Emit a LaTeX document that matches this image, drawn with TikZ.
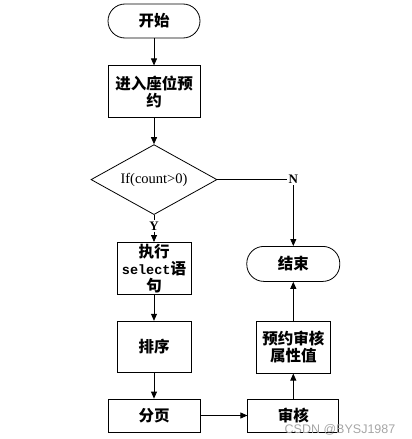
\documentclass[tikz,border=0pt]{standalone}
\usepackage{fontspec}
\setmainfont{Liberation Serif}
\newfontfamily\cjk{Noto Sans CJK SC}
\newfontfamily\monofont{Liberation Mono}
\newfontfamily\wmfont{Liberation Sans}
\usetikzlibrary{arrows.meta, shapes.geometric, positioning}

\begin{document}
\begin{tikzpicture}[
    x=1pt, y=-1pt,
    line width=0.8pt,
    term/.style={rectangle, draw, rounded corners=17pt,
                 minimum width=92pt, minimum height=34pt,
                 font=\cjk\bfseries\fontsize{15.5}{17}\selectfont},
    proc/.style={rectangle, draw, inner sep=1pt,
                 minimum width=74pt, minimum height=52pt,
                 align=center,
                 font=\cjk\bfseries\fontsize{15.5}{17}\selectfont},
    wide/.style={proc, minimum width=92pt, minimum height=33pt},
    decide/.style={diamond, draw, inner sep=0pt, aspect=1.8,
                   minimum width=126pt, minimum height=70pt,
                   font=\fontsize{14.5}{16}\selectfont},
    lab/.style={inner sep=1pt, fill=white,
                font=\bfseries\fontsize{13}{14}\selectfont},
    arr/.style={-{Triangle[length=7pt, width=6pt]}}
  ]
  \useasboundingbox (0,0) rectangle (412,439);

  \node[term] (start) at (154,21) {开始};
  \node[wide, minimum height=52pt, below=27pt of start] (enter)
    {进入座位预\\约};
  \node[decide, below=26pt of enter] (dec) {If(count>0)};
  \node[lab] (ylab) at (154,226) {Y};
  \node[proc, below=27pt of dec] (exec)
    {执行\\{\monofont\bfseries\fontsize{13.5}{17}\selectfont select}语\\句};
  \node[proc, minimum height=51pt, below=26pt of exec] (sort) {排序};
  \node[wide, below=26pt of sort] (page) {分页};
  \node[wide, minimum width=91pt, right=47pt of page] (audit) {审核};
  \node[proc, below=0pt of audit.north, anchor=south, yshift=25pt]
    (attr) {预约审核\\属性值};
  \node[term, minimum width=93pt, minimum height=35pt,
        above=39pt of attr] (end) {结束};
  \node[lab] (nlab) at (end.north |- dec) {N};

  \node[text=gray!70, inner sep=1pt, font=\wmfont\fontsize{12.5}{14}\selectfont]
    (mark) at (340,430) {CSDN @BYSJ1987};

  \draw[arr] (start) -- (enter);
  \draw[arr] (enter) -- (dec);
  \draw (dec.south) -- (ylab.north);
  \draw[arr] (ylab.south) -- (exec.north);
  \draw[arr] (exec) -- (sort);
  \draw[arr] (sort) -- (page);
  \draw[arr] (page) -- (audit);
  \draw[arr] (audit) -- (attr);
  \draw[arr] (attr) -- (end);
  \draw (dec.east) -- (nlab.west);
  \draw[arr] (nlab.south) -- (end.north);
\end{tikzpicture}
\end{document}
